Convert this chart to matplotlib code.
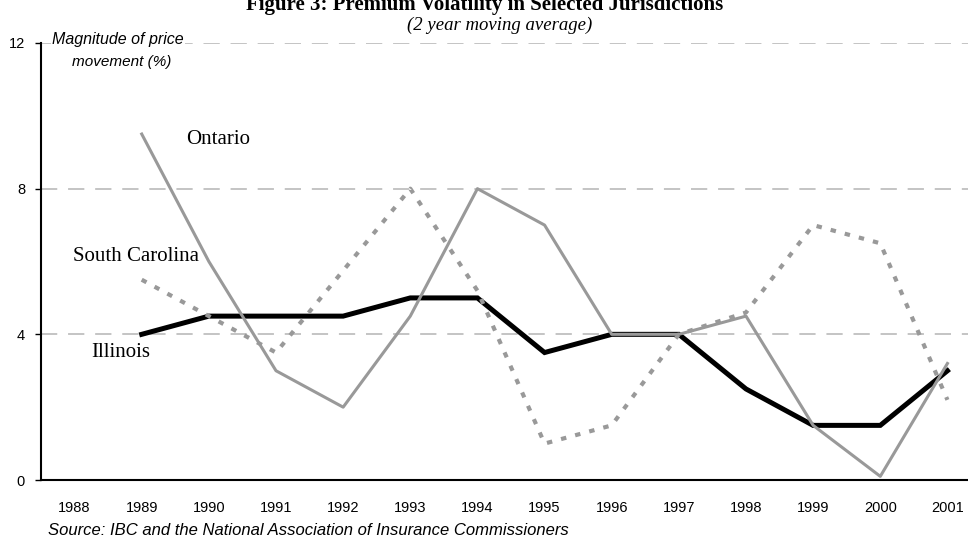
import matplotlib
matplotlib.use('Agg')
import matplotlib.pyplot as plt
import numpy as np

years = ['1988', '1989', '1990', '1991', '1992', '1993', '1994',
         '1995', '1996', '1997', '1998', '1999', '2000', '2001']
# 1988 has no moving-average value (first year of the 2-year window)
illinois = [np.nan, 4.0, 4.5, 4.5, 4.5, 5.0, 5.0, 3.5, 4.0, 4.0, 2.5, 1.5, 1.5, 3.0]
ontario = [np.nan, 9.5, 6.0, 3.0, 2.0, 4.5, 8.0, 7.0, 4.0, 4.0, 4.5, 1.5, 0.1, 3.2]
south_carolina = [np.nan, 5.5, 4.5, 3.5, 5.75, 8.0, 5.2, 1.0, 1.5, 4.0, 4.6, 7.0, 6.5, 2.2]
yticks = [0, 4, 8, 12]

W, H = 968, 538
fig = plt.figure(figsize=(W / 100, H / 100), dpi=100)
# x range runs half a category past 2001, so the right edge is clipped by the figure
ax = fig.add_axes([41 / W, (H - 480) / H, 940 / W, 437 / H])

x = np.arange(len(years))
gray = '#999999'
ax.plot(x, illinois, color='black', lw=3.6, solid_joinstyle='miter', zorder=3)
ax.plot(x, south_carolina, color=gray, lw=3.0, linestyle=(0, (1.3, 2.2)), zorder=4)
ax.plot(x, ontario, color=gray, lw=2.2, zorder=5)

ax.set_xlim(-0.5, 13.5)
ax.set_ylim(0, 12)
ax.set_yticks(yticks)
ax.set_yticklabels([str(t) for t in yticks], fontsize=10.5, family='Liberation Sans')
ax.set_xticks(x)
ax.set_xticklabels(years, fontsize=10.5, family='Liberation Sans')
ax.tick_params(axis='x', length=0, pad=15)
ax.tick_params(axis='y', length=4.5, width=1.0, pad=7, direction='out')

for t in yticks[1:]:
    ax.axhline(t, color='#BFBFBF', lw=1.3, dashes=(9, 6), zorder=1)

for side in ['top', 'right']:
    ax.spines[side].set_visible(False)
ax.spines['left'].set_linewidth(1.5)
ax.spines['bottom'].set_linewidth(1.5)

# series labels drawn inside the plot
serif = 'Liberation Serif'
ax.text(1.66, 9.35, 'Ontario', fontsize=15, family=serif, va='center')
ax.text(-0.03, 6.15, 'South Carolina', fontsize=15, family=serif, va='center')
ax.text(0.25, 3.5, 'Illinois', fontsize=15, family=serif, va='center')

fig.text(52 / W, 1 - 44 / H, 'Magnitude of price', fontsize=11.5, style='italic',
         family='Liberation Sans', va='baseline',
         bbox=dict(facecolor='white', edgecolor='none', pad=1))
fig.text(72 / W, 1 - 66 / H, 'movement (%)', fontsize=11, style='italic',
         family='Liberation Sans', va='baseline')

fig.text(485 / W, 1 - 10 / H, 'Figure 3: Premium Volatility in Selected Jurisdictions',
         fontsize=15, weight='bold', family=serif, ha='center', va='baseline')
fig.text(500 / W, 1 - 30 / H, '(2 year moving average)', fontsize=13.5,
         style='italic', family=serif, ha='center', va='baseline')
fig.text(48 / W, 3 / H,
         'Source: IBC and the National Association of Insurance Commissioners',
         fontsize=12, style='italic', family='Liberation Sans', va='baseline')

fig.savefig('out.png', dpi=100)
